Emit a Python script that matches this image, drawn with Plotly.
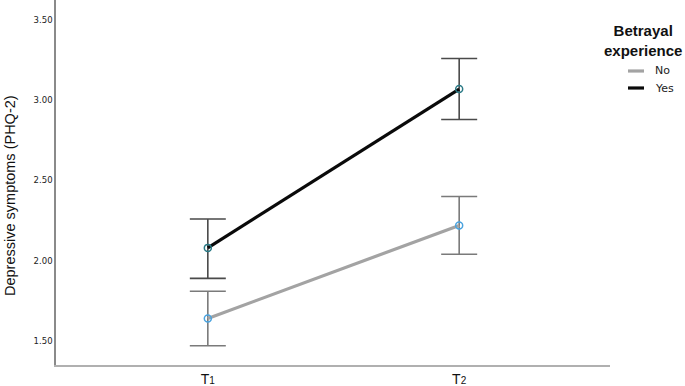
import plotly.graph_objects as go

times = ["T1", "T2"]
tick_text = ["T<span style='font-size:10px'>1</span>", "T<span style='font-size:10px'>2</span>"]
groups = ["No", "Yes"]
means = {"No": [1.64, 2.22], "Yes": [2.08, 3.07]}
upper = {"No": [1.81, 2.40], "Yes": [2.26, 3.26]}
lower = {"No": [1.47, 2.04], "Yes": [1.89, 2.88]}
y_ticks = [1.5, 2.0, 2.5, 3.0, 3.5]
legend_title = "<b>Betrayal<br>experience</b>"

line_colors = {"No": "#a3a3a3", "Yes": "#0a0a0a"}
marker_colors = {"No": "#4aa3df", "Yes": "#2b7a86"}
err_colors = {"No": "#7a7a7a", "Yes": "#4a4a4a"}

fig = go.Figure()
for g in groups:
    m = means[g]
    fig.add_trace(go.Scatter(
        x=[0, 1], y=m, mode="lines+markers", showlegend=False,
        line=dict(color=line_colors[g], width=3.2),
        marker=dict(symbol="circle-open", size=7, color=marker_colors[g], line=dict(width=1.5)),
        error_y=dict(type="data", symmetric=False,
                     array=[u - v for u, v in zip(upper[g], m)],
                     arrayminus=[v - l for v, l in zip(m, lower[g])],
                     color=err_colors[g], thickness=1.6, width=18),
    ))

# manual legend (paper coordinates); plot area spans x 56..610, y 0..365
W, H = 685, 386
L, R, T, B = 56, 75, 0, 21
pw, ph = W - L - R, H - T - B
def px(x):
    return (x - L) / pw
def py(y):
    return (H - B - y) / ph

annotations = [dict(text=legend_title, xref="paper", yref="paper", x=px(643), y=py(41),
                    xanchor="center", yanchor="middle", showarrow=False, align="center",
                    font=dict(family="Liberation Sans, Arial", size=15, color="#111"))]
shapes = []
for g, yy in zip(groups, [71, 88]):
    shapes.append(dict(type="line", xref="paper", yref="paper", x0=px(628), x1=px(644),
                       y0=py(yy), y1=py(yy), line=dict(color=line_colors[g], width=3.2)))
    annotations.append(dict(text=g, xref="paper", yref="paper", x=px(653), y=py(yy),
                            xanchor="left", yanchor="middle", showarrow=False,
                            font=dict(family="DejaVu Sans", size=11, color="#222")))
annotations.append(dict(text="Depressive symptoms (PHQ-2)", xref="paper", yref="paper",
                        x=px(10), y=py(196), xanchor="center", yanchor="middle",
                        textangle=-90, showarrow=False,
                        font=dict(family="Liberation Sans, Arial", size=14.5, color="#111")))

fig.update_layout(
    width=W, height=H,
    margin=dict(l=L, r=R, t=T, b=B, autoexpand=False),
    paper_bgcolor="white", plot_bgcolor="white",
    showlegend=False,
    annotations=annotations, shapes=shapes,
    xaxis=dict(
        range=[-0.604, 1.6], tickmode="array", tickvals=[0, 1], ticktext=tick_text,
        showgrid=False, zeroline=False, showline=True, linecolor="#b0b0b0", linewidth=2,
        ticks="", automargin=False,
        tickfont=dict(family="Liberation Sans, Arial", size=14, color="#111"),
    ),
    yaxis=dict(
        range=[1.35, 3.625], tickmode="array", tickvals=y_ticks,
        ticktext=["%.2f" % v for v in y_ticks],
        showgrid=False, zeroline=False, showline=True, linecolor="#8a8a8a", linewidth=1.5,
        ticks="", automargin=False,
        tickfont=dict(family="DejaVu Sans", size=8.5, color="#222"),
    ),
)

fig.write_html("out.html", config={"displayModeBar": False},
               post_script="document.body.style.margin='0';document.body.style.overflow='hidden';")
